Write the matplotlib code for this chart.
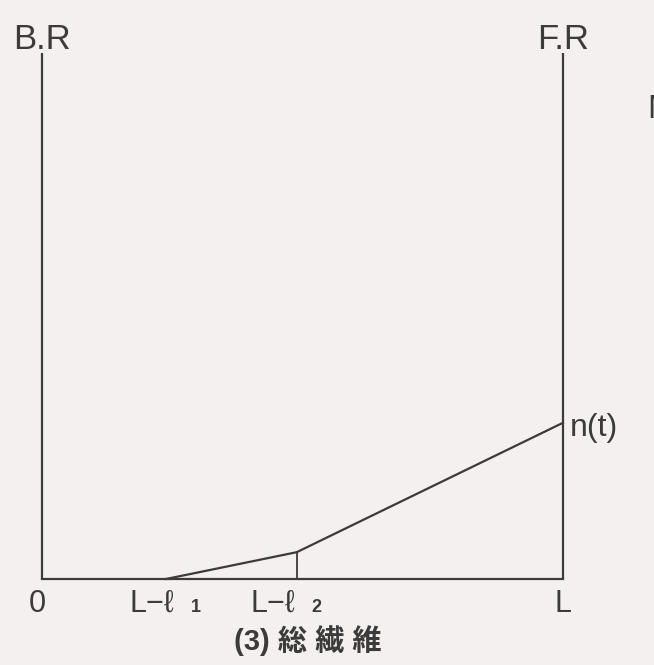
import matplotlib
matplotlib.use("Agg")
import matplotlib.pyplot as plt
from matplotlib.transforms import offset_copy

# Fibre distribution along the roll length (0 .. L)
axis_labels = ["B.R", "F.R"]
tick_pos = [0.0, 0.238, 0.489, 1.0]
tick_main = ["0", "L\u2212\u2113", "L\u2212\u2113", "L"]
tick_sub = ["", "1", "2", ""]
curve_x = [0.238, 0.489, 1.0]
curve_y = [0.0, 0.051, 0.297]
curve_label = "n(t)"
caption = "(3) 総 繊 維"

W, H, DPI = 654, 665, 100
BG = "#f4f0f0"
INK = "#3c3a3a"
LATIN = ["Liberation Sans", "DejaVu Sans"]
CJK = ["Liberation Sans", "Noto Sans CJK JP", "DejaVu Sans"]


def px(v):
    return v * 72 / DPI


fig = plt.figure(figsize=(W / DPI, H / DPI), dpi=DPI, facecolor=BG)
x0, x1, yb, yt = 42, 563, 579, 53
ax = fig.add_axes([x0 / W, (H - yb) / H, (x1 - x0) / W, (yb - yt) / H])
ax.set_xlim(0, 1)
ax.set_ylim(0, 1)
ax.axis("off")
ax.set_facecolor(BG)

lw = 1.6
# frame: two vertical rolls and the base line
ax.plot([0, 0], [0, 1], color=INK, lw=lw, clip_on=False, solid_capstyle="butt")
ax.plot([1, 1], [0, 1], color=INK, lw=lw, clip_on=False, solid_capstyle="butt")
ax.plot([0, 1], [0, 0], color=INK, lw=lw, clip_on=False, solid_capstyle="projecting")

# distribution curve and the marker at the break point
ax.plot(curve_x, curve_y, color=INK, lw=lw, clip_on=False)
ax.plot([curve_x[1], curve_x[1]], [0, curve_y[1]], color=INK, lw=1.3, clip_on=False)

# roll labels
for xv, lab in zip([0, 1], axis_labels):
    t = offset_copy(ax.transData, fig=fig, x=0, y=px(4), units="points")
    ax.text(xv, 1, lab, transform=t, ha="center", va="baseline",
            fontsize=25, color=INK, family=LATIN)

# tick labels along the base line
main_dx = [-5, 8, -2, 0]   # px shift of each label's main text
for xv, m, s, dx in zip(tick_pos, tick_main, tick_sub, main_dx):
    if s:
        t = offset_copy(ax.transData, fig=fig, x=px(dx), y=px(-25), units="points")
        ax.text(xv, 0, m, transform=t, ha="right", va="center",
                fontsize=22, color=INK, family=LATIN)
        t2 = offset_copy(ax.transData, fig=fig, x=px(dx + 17), y=px(-28), units="points")
        ax.text(xv, 0, s, transform=t2, ha="left", va="center",
                fontsize=13, color=INK, family=LATIN, fontweight="bold")
    else:
        t = offset_copy(ax.transData, fig=fig, x=px(dx), y=px(-25), units="points")
        ax.text(xv, 0, m, transform=t, ha="center", va="center",
                fontsize=22, color=INK, family=LATIN)

# curve end label
t = offset_copy(ax.transData, fig=fig, x=px(7), y=px(-5), units="points")
ax.text(curve_x[-1], curve_y[-1], curve_label, transform=t, ha="left", va="center",
        fontsize=23, color=INK, family=LATIN)

# caption under the diagram
fig.text(308 / W, 1 - 641 / H, caption, ha="center", va="center",
         fontsize=21, color=INK, family=CJK, fontweight="bold")

# fragment of a neighbouring label at the right margin
fig.text(647 / W, 1 - 109 / H, "N", ha="left", va="center",
         fontsize=24, color=INK, family=LATIN)

fig.savefig("out.png", dpi=DPI, facecolor=BG)
